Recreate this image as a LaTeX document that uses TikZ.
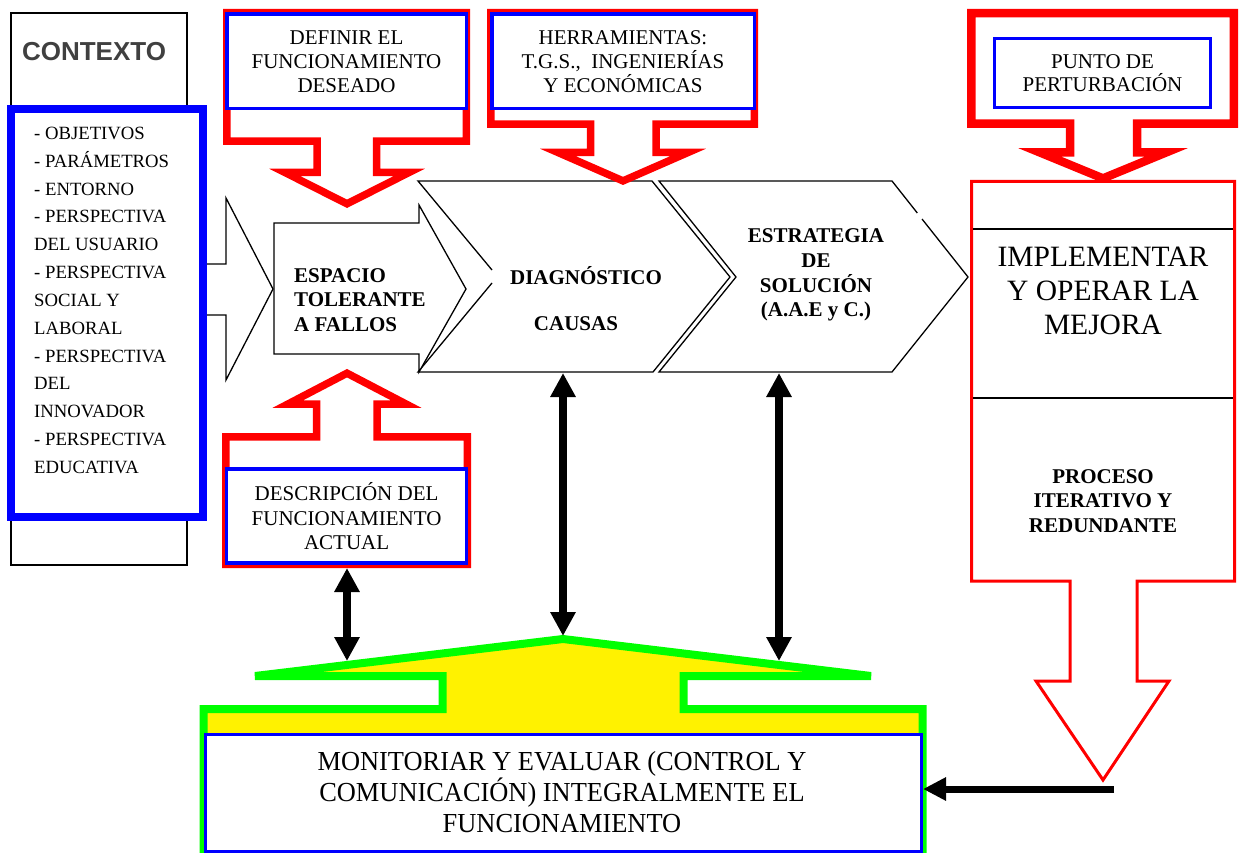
\documentclass[tikz,border=0pt]{standalone}
\usepackage{fontspec}
\setmainfont{Liberation Serif}
\newfontfamily\ctxfont{Liberation Sans}
\newfontfamily\narrowserif{Liberation Serif}[FakeStretch=0.96]
\usetikzlibrary{arrows.meta}
\definecolor{ctxgray}{RGB}{64,64,64}
\begin{document}
\begin{tikzpicture}[x=1pt,y=-1pt,line join=miter,
  redcallout/.style={draw=red,fill=white,line width=#1},
  bluebox/.style={draw=blue,fill=white,line width=3.5pt,inner sep=0pt,align=center},
  chevline/.style={draw=black,line width=1.3pt},
  normtext/.style={font=\fontsize{21}{24}\selectfont,align=center,inner sep=0pt},
  boldtext/.style={font=\fontsize{21}{24.5}\selectfont\bfseries,align=center,inner sep=0pt},
  ctxitem/.style={font=\fontsize{18.7}{20}\selectfont,anchor=base west,inner sep=0pt},
  dblarrow/.style={line width=8pt,{Triangle[length=24pt,width=24pt]}-{Triangle[length=24pt,width=24pt]}},
  onearrow/.style={line width=7pt,-{Triangle[length=23pt,width=22pt]}},
]
\useasboundingbox (0,0) rectangle (1244,853);
\fill[white] (0,0) rectangle (1244,853);

% ---- context column ----
\node[draw=black,line width=2pt,minimum width=176pt,minimum height=552pt,inner sep=0pt] (ctxframe) at (99,289) {};
\node[font=\fontsize{26}{30}\selectfont\ctxfont\bfseries,text=ctxgray,inner sep=0pt] (ctxtitle) at (94,52) {CONTEXTO};
\node[draw=blue,fill=white,line width=8pt,minimum width=192pt,minimum height=408pt,inner sep=0pt] (ctxlist) at (107,313) {};
\foreach \txt [count=\i from 0] in {- OBJETIVOS,- PARÁMETROS,- ENTORNO,- PERSPECTIVA,DEL USUARIO,- PERSPECTIVA,SOCIAL Y,LABORAL,- PERSPECTIVA,DEL,INNOVADOR,- PERSPECTIVA,EDUCATIVA}
  \node[ctxitem] (ctx\i) at (34,139.5+27.83*\i) {\txt};

% big hollow arrow leaving the context box
\draw[chevline,fill=white] (207,264) -- (226,264) -- (226,198) -- (273,289) -- (226,380) -- (226,315) -- (207,315);

% ---- process chevrons ----
\fill[white] (418,181) -- (652,181) -- (730,277) -- (653,372) -- (418,372) -- (497,277) -- cycle;
\draw[chevline] (492,270) -- (418,181) -- (652,181) -- (730,277) -- (653,372) -- (418,372) -- (492,283);

\fill[white] (659,181) -- (892,181) -- (968,277) -- (892,372) -- (659,372) -- (736,277) -- cycle;
\draw[chevline] (917.3,213) -- (892,181) -- (659,181) -- (736,277) -- (659,372) -- (892,372) -- (968,277) -- (922,219);

\draw[chevline,fill=white] (274,223) -- (419,223) -- (419,205) -- (466,289) -- (419,372) -- (419,354) -- (274,354) -- cycle;

\node[boldtext,align=left,anchor=west] (espacio) at (294,300) {ESPACIO\\TOLERANTE\\A FALLOS};
\node[boldtext] (diag) at (586,276) {DIAGNÓSTICO};
\node[boldtext] (causas) at (576,324) {CAUSAS};
\node[boldtext,font=\fontsize{21}{24.8}\selectfont\bfseries] (estr) at (816,275) {ESTRATEGIA\\DE\\SOLUCIÓN\\(A.A.E y C.)};

% ---- implementation block with its downward arrow ----
\draw[draw=red,fill=white,line width=3pt] (971.5,181.5) -- (1234.5,181.5) -- (1234.5,581) -- (1137,581) -- (1137,681) -- (1169,681) -- (1103,780) -- (1036,681) -- (1070,681) -- (1070,581) -- (971.5,581) -- cycle;
\draw[line width=1.3pt] (973,229) -- (1233,229);
\draw[line width=1.3pt] (973,398) -- (1233,398);
\node[font=\fontsize{29.5}{34}\selectfont,align=center,inner sep=0pt] (impl) at (1103,291) {IMPLEMENTAR\\Y OPERAR LA\\MEJORA};
\node[boldtext] (proceso) at (1103,501) {PROCESO\\ITERATIVO Y\\REDUNDANTE};

% ---- callouts ----
\draw[redcallout=7.5pt] (226.75,12.75) -- (466.25,12.75) -- (466.25,141.25) -- (376.5,141.25) -- (376.5,172.5) -- (409,172.5) -- (347,203.8) -- (285,172.5) -- (317,172.5) -- (317,141.25) -- (226.75,141.25) -- cycle;
\node[bluebox,normtext,minimum width=239.5pt,minimum height=94.5pt] (definir) at (346.5,61.5) {DEFINIR EL\\FUNCIONAMIENTO\\DESEADO};

\draw[redcallout=7.5pt] (490.75,12.75) -- (754.25,12.75) -- (754.25,124.25) -- (656,124.25) -- (656,152.5) -- (688,152.5) -- (623,180.9) -- (558,152.5) -- (590.5,152.5) -- (590.5,124.25) -- (490.75,124.25) -- cycle;
\node[bluebox,normtext,minimum width=262.5pt,minimum height=94.5pt] (herr) at (623,61.5) {HERRAMIENTAS:\\T.G.S.,\ \ INGENIERÍAS\\Y ECONÓMICAS};

\draw[redcallout=8.5pt] (971.25,13.25) -- (1233.75,13.25) -- (1233.75,123.75) -- (1137,123.75) -- (1137,152.5) -- (1166,152.5) -- (1103,178.4) -- (1040,152.5) -- (1070,152.5) -- (1070,123.75) -- (971.25,123.75) -- cycle;
\node[bluebox,normtext,line width=3pt,minimum width=216pt,minimum height=69pt,font=\fontsize{21}{23.5}\selectfont] (punto) at (1102.5,73) {PUNTO DE\\PERTURBACIÓN};

\draw[redcallout=7.5pt] (225.75,564.25) -- (225.75,436.75) -- (316.5,436.75) -- (316.5,404) -- (288,404) -- (347,373.2) -- (406,404) -- (377,404) -- (377,436.75) -- (467.25,436.75) -- (467.25,564.25) -- cycle;
\node[bluebox,normtext,font=\fontsize{21}{24.5}\selectfont,minimum width=239.75pt,minimum height=94.25pt] (desc) at (346.6,516.1) {DESCRIPCIÓN DEL\\FUNCIONAMIENTO\\ACTUAL};

% ---- monitoring block ----
\draw[draw=green,fill=yellow,line width=8pt] (255,676) -- (563,639) -- (871,676) -- (683.5,676) -- (683.5,709) -- (922.5,709) -- (922.5,870) -- (203.5,870) -- (203.5,709) -- (442.5,709) -- (442.5,676) -- cycle;
\node[draw=blue,fill=white,line width=3pt,minimum width=716pt,minimum height=116.5pt,inner sep=0pt] (mon) at (563.5,792.75) {};
\node[font=\fontsize{27.5}{31}\selectfont\narrowserif,align=center,inner sep=0pt] (montext) at (562,792) {MONITORIAR Y EVALUAR (CONTROL Y\\COMUNICACIÓN) INTEGRALMENTE EL\\FUNCIONAMIENTO};

% ---- connectors ----
\coordinate (descBase) at (347,568);
\coordinate (roofL) at (347,661);
\coordinate (diagBase) at (563,373);
\coordinate (roofApex) at (563,636);
\coordinate (estrBase) at (779,373);
\coordinate (roofR) at (779,661);
\coordinate (implTip) at (1114,789);
\draw[dblarrow] (descBase) -- (roofL);
\draw[dblarrow] (diagBase) -- (roofApex);
\draw[dblarrow] (estrBase) -- (roofR);
\draw[onearrow] (implTip) -- (mon.east |- implTip);
\end{tikzpicture}
\end{document}
